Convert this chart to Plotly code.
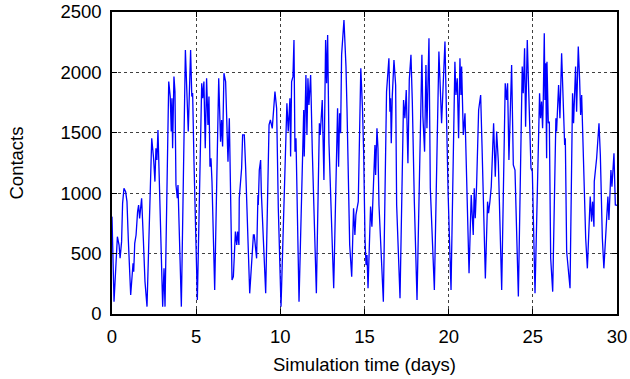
import plotly.graph_objects as go

days = [0.00, 0.12, 0.32, 0.42, 0.48, 0.57, 0.63, 0.71, 0.81, 0.89, 0.97, 1.11, 1.25, 1.29, 1.35, 1.43, 1.52, 1.58, 1.64, 1.76, 1.86, 1.96,
        2.08, 2.36, 2.47, 2.55, 2.61, 2.67, 2.73, 2.81, 2.89, 3.01, 3.09, 3.15, 3.37, 3.46, 3.52, 3.56, 3.60, 3.68, 3.74, 3.80, 3.88, 3.92,
        4.12, 4.36, 4.53, 4.67, 4.74, 4.79, 4.87, 5.07, 5.33, 5.39, 5.46, 5.54, 5.62, 5.70, 5.76, 5.82, 5.88, 5.94,
        6.10, 6.34, 6.45, 6.51, 6.57, 6.65, 6.75, 6.89, 6.97, 7.13, 7.21, 7.33, 7.41, 7.46, 7.54, 7.56, 7.70, 7.76, 7.86, 7.94,
        8.18, 8.26, 8.40, 8.45, 8.51, 8.59, 8.67, 8.69, 8.75, 8.83, 8.87, 9.13, 9.33, 9.41, 9.52, 9.68, 9.78, 9.88,
        10.04, 10.34, 10.39, 10.47, 10.57, 10.61, 10.67, 10.75, 10.81, 10.87, 10.93, 11.11, 11.39, 11.42, 11.52, 11.58, 11.64, 11.70, 11.80, 11.90,
        12.14, 12.32, 12.37, 12.49, 12.59, 12.69, 12.75, 12.81, 12.89, 13.17, 13.40, 13.46, 13.52, 13.58, 13.64, 13.78, 13.90, 13.96,
        14.12, 14.24, 14.35, 14.43, 14.49, 14.63, 14.78, 14.88, 14.95, 15.03, 15.09, 15.15, 15.21, 15.36, 15.44, 15.48, 15.56, 15.62, 15.66, 15.74, 15.80, 15.86,
        16.12, 16.31, 16.45, 16.51, 16.55, 16.59, 16.65, 16.75, 16.85, 16.91, 17.11, 17.32, 17.40, 17.48, 17.58, 17.66, 17.76, 17.84, 17.96,
        18.12, 18.41, 18.47, 18.57, 18.65, 18.71, 18.83, 18.91, 19.15, 19.42, 19.52, 19.58, 19.78, 19.84, 19.92, 19.97,
        20.14, 20.37, 20.43, 20.51, 20.59, 20.67, 20.73, 20.77, 20.87, 20.97, 21.21, 21.34, 21.46, 21.52, 21.58, 21.66, 21.78, 21.90, 21.98,
        22.18, 22.31, 22.37, 22.45, 22.53, 22.67, 22.77, 22.85, 22.95, 23.15, 23.36, 23.44, 23.50, 23.58, 23.74, 23.84, 23.94,
        24.14, 24.37, 24.43, 24.51, 24.57, 24.67, 24.73, 24.89, 24.97, 25.13, 25.40, 25.46, 25.52, 25.58, 25.62, 25.68, 25.72, 25.76, 25.82, 25.84, 25.92, 25.98,
        26.06, 26.18, 26.37, 26.41, 26.53, 26.61, 26.71, 26.79, 26.89, 26.93, 27.01, 27.21, 27.36, 27.42, 27.54, 27.60, 27.70, 27.78, 27.84, 27.90, 27.96,
        28.14, 28.24, 28.41, 28.49, 28.55, 28.63, 28.65, 28.79, 28.93, 29.01, 29.13, 29.22, 29.38, 29.46, 29.52, 29.64, 29.70, 29.82, 29.90, 30.00]

contacts = [806, 102, 640, 571, 461, 599, 916, 1040, 1013, 930, 613, 157, 420, 350, 585, 654, 847, 902, 792, 958, 627, 268,
            61, 1455, 1289, 1096, 1372, 1275, 1524, 1123, 627, 61, 378, 61, 1924, 1800, 1510, 1786, 1372, 1965, 1841, 1068, 958, 1068,
            61, 2186, 1510, 2186, 1800, 1830, 1261, 116, 1910, 1786, 1924, 1372, 1951, 1565, 1800, 1220, 1289, 1096,
            199, 1951, 1427, 1606, 1386, 1993, 1924, 1261, 1620, 282, 309, 682, 571, 682, 571, 958, 1206, 1482, 1482, 1206,
            171, 323, 654, 654, 558, 461, 985, 902, 1192, 1275, 1013, 171, 1565, 1606, 1537, 1841, 1703, 875,
            61, 1496, 1744, 1510, 1786, 1303, 1924, 1965, 2269, 1344, 1455, 102, 1689, 1303, 1979, 1482, 1951, 1731, 1979, 1344,
            171, 1579, 1482, 1772, 1110, 2269, 1910, 2310, 1413, 213, 1703, 1220, 1662, 1496, 2145, 2434, 2048, 1703,
            571, 309, 875, 654, 820, 930, 2034, 1700, 1340, 626, 405, 488, 213, 889, 723, 875, 1151, 1399, 1151, 1537, 1372, 902,
            102, 1841, 2117, 1675, 1786, 1413, 1800, 2103, 1896, 902, 130, 1772, 1620, 1855, 1248, 1938, 2145, 1758, 930,
            116, 2145, 1634, 1344, 2062, 1537, 2283, 1041, 199, 2172, 1827, 1579, 2255, 1900, 1179, 985,
            199, 2089, 1813, 1951, 1455, 2117, 1813, 2048, 1482, 1662, 337, 985, 654, 1041, 792, 1068, 1689, 1813, 1399,
            295, 930, 834, 930, 1054, 1579, 1137, 1510, 1261, 199, 1910, 1772, 1910, 1275, 2062, 1234, 1192,
            144, 2048, 1827, 2200, 1551, 2269, 1965, 1206, 1179, 171, 1827, 1620, 1758, 1537, 1772, 2324, 1772, 2076, 1289, 2089, 1579, 1593,
            461, 185, 1620, 1510, 1896, 1620, 2158, 1882, 1399, 1455, 516, 213, 1827, 1579, 2048, 1675, 2214, 1938, 1648, 1813, 1537,
            627, 378, 972, 765, 930, 723, 1096, 1289, 1579, 1317, 627, 378, 765, 972, 778, 1192, 1054, 1330, 902, 900]

x_ticks = [0, 5, 10, 15, 20, 25, 30]
y_ticks = [0, 500, 1000, 1500, 2000, 2500]

FONT = "Liberation Sans, Arial, sans-serif"

fig = go.Figure()
fig.add_trace(go.Scatter(x=days, y=contacts, mode="lines",
                         line=dict(color="#0000ff", width=1.3), showlegend=False))

axis_common = dict(
    showline=True, linecolor="black", linewidth=1.5, mirror="ticks",
    ticks="inside", ticklen=5, tickcolor="black", tickwidth=1,
    showgrid=True, gridcolor="rgba(0,0,0,0.75)", griddash="dot", gridwidth=1,
    zeroline=False, automargin=False,
    tickfont=dict(family=FONT, size=18.5, color="black"),
)

fig.update_xaxes(range=[0, 30], tickvals=x_ticks, ticktext=[str(v) for v in x_ticks],
                 ticklabelstandoff=5,
                 title=dict(text="Simulation time (days)", standoff=12,
                            font=dict(family=FONT, size=18.5, color="black")),
                 **axis_common)
fig.update_yaxes(range=[0, 2500], tickvals=y_ticks, ticktext=[str(v) for v in y_ticks],
                 ticklabelstandoff=5,
                 title=dict(text="Contacts", standoff=32,
                            font=dict(family=FONT, size=18.5, color="black")),
                 **axis_common)

fig.update_layout(width=630, height=379, margin=dict(l=112, r=13, t=12, b=65, autoexpand=False),
                  paper_bgcolor="white", plot_bgcolor="white")

fig.write_html("out.html")
